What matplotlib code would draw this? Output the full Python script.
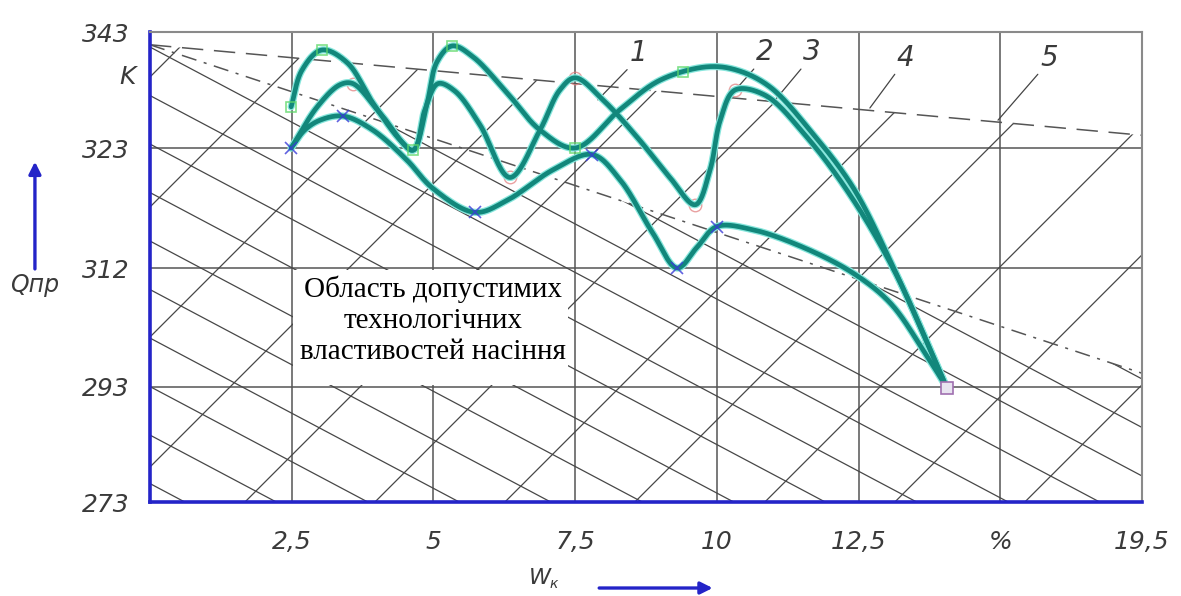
import numpy as np
import matplotlib
matplotlib.use("Agg")
import matplotlib.pyplot as plt
from matplotlib.patches import Polygon, Rectangle

# ---- axis layout -------------------------------------------------------
X_TICKS = [2.5, 5, 7.5, 10, 12.5, 15, 17.5]
X_LABELS = ["2,5", "5", "7,5", "10", "12,5", "%", "19,5"]
K_TICKS = [273, 293, 312, 323, 343]          # unevenly spaced temperature grid
K_POS = [0, 115, 234, 354, 470]              # where each grid line sits (equal-ish rows)

# ---- curves (W, %  ->  Q, K) --------------------------------------------
w_top = [2.49, 2.68, 3.03, 3.48, 3.93, 4.41, 4.64, 4.89, 5.06, 5.33, 5.70, 6.30,
         6.88, 7.50, 8.29, 9.00, 9.83, 10.36, 10.94, 11.64, 12.40, 13.11, 14.06]
q_top = [330.1, 336.4, 339.9, 337.7, 330.8, 324.4, 322.8, 330.8, 337.8, 340.6, 338.7, 332.5,
         326.1, 323.0, 329.6, 334.7, 337.0, 336.4, 333.5, 326.1, 319.4, 312.1, 292.8]

w_mid = [2.49, 2.95, 3.35, 3.58, 4.06, 4.64, 4.85, 5.08, 5.38, 5.82, 6.35, 6.88, 7.23,
         7.50, 7.99, 8.59, 9.17, 9.62, 9.88, 10.06, 10.32, 10.85, 11.56, 12.35, 13.14, 14.06]
q_mid = [323.0, 330.1, 333.9, 334.1, 329.0, 322.8, 329.6, 334.1, 332.8, 327.0, 320.3, 326.1, 333.0,
         335.1, 331.3, 324.9, 320.3, 317.8, 321.0, 327.8, 333.0, 332.1, 325.2, 318.7, 311.4, 292.8]

w_low = [2.49, 2.73, 3.00, 3.41, 3.93, 4.53, 4.99, 5.73, 6.30, 7.11, 7.80, 8.29, 8.87,
         9.30, 9.65, 10.00, 10.64, 11.52, 12.40, 13.06, 13.64, 14.06]
q_low = [323.0, 326.1, 327.8, 328.5, 326.1, 321.9, 319.3, 317.1, 318.2, 321.0, 322.4, 320.1, 315.2,
         312.0, 313.9, 315.8, 315.5, 313.9, 311.2, 306.4, 298.9, 292.8]

# measured points (markers)
w_sq = [2.49, 3.03, 4.64, 5.33, 7.50, 9.40]
q_sq = [330.1, 339.9, 322.8, 340.6, 323.0, 336.1]
w_ci = [3.58, 6.35, 7.50, 9.62, 10.32]
q_ci = [334.1, 320.3, 335.1, 317.8, 333.0]
w_x = [2.49, 3.41, 5.73, 7.80, 9.30, 10.00]
q_x = [323.0, 328.5, 317.1, 322.4, 312.0, 315.8]
w_end, q_end = [14.06], [292.8]

# boundary lines 4 (dashed) and 5 (dash-dot)
w_bound = [0.0, 17.5]
q_line4 = [340.8, 325.2]
q_line5 = [340.8, 295.2]

# curve labels: text position and leader target
lab_text = ["1", "2", "3", "4", "5"]
lab_w = [8.62, 10.85, 11.68, 13.33, 15.86]
lab_q = [339.4, 339.5, 339.5, 338.6, 338.6]
lead_w = [7.90, 10.29, 11.03, 12.70, 14.96]
lead_q = [331.3, 332.6, 331.3, 329.9, 327.8]

REGION_TEXT = "Область допустимих\nтехнологічних\nвластивостей насіння"

TEAL = "#12877b"
HALO = "#86e6dc"
BLUE = "#2424c8"
INK = "#3a3a3a"


def fwd(k):
    return np.interp(k, K_TICKS, K_POS)


def inv(p):
    return np.interp(p, K_POS, K_TICKS)


PX_PER_W = 141.7 / 2.5


def smooth(w, q, n=40):
    """centripetal Catmull-Rom through the points, done in screen-like units"""
    pts = np.column_stack([np.asarray(w) * PX_PER_W, fwd(np.asarray(q))])
    P = np.vstack([2 * pts[0] - pts[1], pts, 2 * pts[-1] - pts[-2]])
    out = []
    for i in range(1, len(P) - 2):
        p0, p1, p2, p3 = P[i - 1:i + 3]
        t0 = 0.0
        t1 = t0 + np.linalg.norm(p1 - p0) ** 0.5 + 1e-9
        t2 = t1 + np.linalg.norm(p2 - p1) ** 0.5 + 1e-9
        t3 = t2 + np.linalg.norm(p3 - p2) ** 0.5 + 1e-9
        t = np.linspace(t1, t2, n)[:, None]
        a1 = (t1 - t) / (t1 - t0) * p0 + (t - t0) / (t1 - t0) * p1
        a2 = (t2 - t) / (t2 - t1) * p1 + (t - t1) / (t2 - t1) * p2
        a3 = (t3 - t) / (t3 - t2) * p2 + (t - t2) / (t3 - t2) * p3
        b1 = (t2 - t) / (t2 - t0) * a1 + (t - t0) / (t2 - t0) * a2
        b2 = (t3 - t) / (t3 - t1) * a2 + (t - t1) / (t3 - t1) * a3
        out.append((t2 - t) / (t2 - t1) * b1 + (t - t1) / (t2 - t1) * b2)
    c = np.vstack(out)
    return c[:, 0] / PX_PER_W, inv(c[:, 1])


fig = plt.figure(figsize=(11.81, 5.96), dpi=100)
ax = fig.add_axes([150 / 1181, 94 / 596, 992 / 1181, 470 / 596])
ax.set_yscale("function", functions=(fwd, inv))
ax.set_xlim(0, 17.5)
ax.set_ylim(273, 343)

# grid
for x in X_TICKS[:-1]:
    ax.axvline(x, color="#555555", lw=1.1, zorder=1)
for k in K_TICKS[1:-1]:
    ax.axhline(k, color="#555555", lw=1.1, zorder=1)

# hatching, clipped below the boundary lines
below5 = Polygon([(0, 273), (w_bound[0], q_line5[0]), (w_bound[1], q_line5[1]), (17.5, 273)],
                 closed=True, transform=ax.transData, fill=False, lw=0)
below4 = Polygon([(0, 273), (w_bound[0], q_line4[0]), (w_bound[1], q_line4[1]), (17.5, 273)],
                 closed=True, transform=ax.transData, fill=False, lw=0)
ax.add_patch(below5)
ax.add_patch(below4)
fx = np.array([0.0, 1.0])
for k in range(-8, 12):          # falling hatch
    b = 0.968 - 0.1032 * k
    ln, = ax.plot(fx, b - 1.119 * fx, transform=ax.transAxes, color="#474747", lw=0.9, zorder=1)
    ln.set_clip_path(below5)
for k in range(-6, 8):           # rising hatch
    d = -0.4787 - 0.2766 * k
    ln, = ax.plot(fx, d + 2.111 * fx, transform=ax.transAxes, color="#474747", lw=0.9, zorder=1)
    ln.set_clip_path(below4)

# boundary lines
ax.plot(w_bound, q_line4, color="#555555", lw=1.1, dashes=(14, 7), zorder=2)
ax.plot(w_bound, q_line5, color="#555555", lw=1.1, dashes=(10, 5, 2, 5), zorder=2)

# region label
ax.add_patch(Rectangle((2.53, 293.3), 4.85, 18.4, facecolor="white", edgecolor="none", zorder=3))
ax.text(5.0, 303.6, REGION_TEXT, ha="center", va="center", multialignment="center",
        fontsize=21, family=["Liberation Serif", "DejaVu Serif"], color="black",
        linespacing=1.25, zorder=4)

# curves
for w, q in [(w_low, q_low), (w_mid, q_mid), (w_top, q_top)]:
    sx, sy = smooth(w, q)
    ax.plot(sx, sy, color=HALO, lw=5.2, solid_capstyle="round", zorder=5)
    ax.plot(sx, sy, color=TEAL, lw=3.4, solid_capstyle="round", zorder=6)

ax.plot(w_sq, q_sq, ls="none", marker="s", ms=7, mfc="none", mec="#5fd86a", mew=1.2, alpha=0.8, zorder=7)
ax.plot(w_ci, q_ci, ls="none", marker="o", ms=9, mfc="none", mec="#e07a7a", mew=1.0, alpha=0.7, zorder=4)
ax.plot(w_x, q_x, ls="none", marker="x", ms=9, mec="#3a3ad8", mew=1.2, alpha=0.8, zorder=7)
ax.plot(w_end, q_end, ls="none", marker="s", ms=9, mfc="#e8e4f0", mec="#a070b0", mew=1.2, zorder=7)

# curve numbers with leaders
for t, tw, tq, lw_, lq in zip(lab_text, lab_w, lab_q, lead_w, lead_q):
    ax.annotate(t, xy=(lw_, lq), xytext=(tw, tq), ha="center", va="center",
                fontsize=20, style="italic", color=INK,
                arrowprops=dict(arrowstyle="-", color="#444444", lw=0.9,
                                relpos=(0.0, 0.0), shrinkA=0, shrinkB=0))

# ticks
ax.set_xticks(X_TICKS, X_LABELS)
ax.set_yticks(K_TICKS, [str(k) for k in K_TICKS])
ax.tick_params(axis="x", length=0, pad=20, labelsize=18, labelcolor=INK)
ax.tick_params(axis="y", length=0, pad=15, labelsize=18, labelcolor=INK)
for lab in ax.get_xticklabels() + ax.get_yticklabels():
    lab.set_style("italic")

# frame
for side in ["top", "right"]:
    ax.spines[side].set_color("#8a8a8a")
    ax.spines[side].set_linewidth(1.5)
for side in ["left", "bottom"]:
    ax.spines[side].set_color(BLUE)
    ax.spines[side].set_linewidth(2.6)

# axis names with arrows
ax.text(-0.023, 0.905, "K", transform=ax.transAxes, ha="center", va="center",
        fontsize=18, style="italic", color=INK)
ax.text(-0.116, 0.462, "Qпр", transform=ax.transAxes, ha="center", va="center",
        fontsize=17, style="italic", color=INK)
ax.annotate("", xy=(-0.116, 0.73), xytext=(-0.116, 0.49), xycoords="axes fraction",
            arrowprops=dict(arrowstyle="-|>", color=BLUE, lw=2.4, mutation_scale=18))
ax.text(0.393, -0.162, "W", transform=ax.transAxes, ha="center", va="center",
        fontsize=16, style="italic", color=INK, clip_on=False)
ax.text(0.407, -0.175, "к", transform=ax.transAxes, ha="center", va="center",
        fontsize=10, style="italic", color=INK, clip_on=False)
ax.annotate("", xy=(0.57, -0.183), xytext=(0.45, -0.183), xycoords="axes fraction",
            arrowprops=dict(arrowstyle="-|>", color=BLUE, lw=2.4, mutation_scale=18))

fig.savefig("out.png", dpi=100, facecolor="white")
